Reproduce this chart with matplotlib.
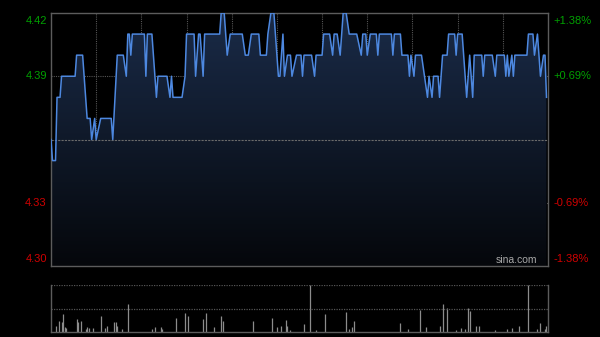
import numpy as np
import matplotlib
matplotlib.use('Agg')
import matplotlib.pyplot as plt
from matplotlib.colors import LinearSegmentedColormap

# Intraday price (minute index from the open, price in HKD)
minutes = [0, 1, 3, 4, 6, 7, 16, 17, 21, 22, 24, 26, 27, 29, 30, 33, 40, 41, 44, 48,
           50, 51, 52, 53, 54, 62, 63, 64, 67, 68, 70, 71, 77, 79, 80, 81, 87, 89, 90, 95,
           96, 98, 99, 101, 102, 112, 113, 115, 117, 119, 127, 129, 131, 133, 138, 139, 143, 144, 146, 148,
           151, 152, 154, 155, 157, 159, 160, 163, 166, 167, 168, 173, 175, 176, 180, 181, 185, 187, 188, 190,
           192, 193, 194, 196, 198, 203, 206, 207, 209, 210, 212, 216, 217, 218, 226, 227, 228, 232, 233, 237,
           238, 239, 241, 242, 246, 248, 250, 251, 253, 254, 257, 258, 260, 263, 264, 268, 269, 270, 273, 275,
           276, 278, 280, 281, 286, 287, 288, 293, 295, 296, 301, 302, 303, 304, 306, 307, 308, 316, 317, 320,
           321, 323, 325, 327, 328, 329]
prices = [4.36, 4.35, 4.35, 4.38, 4.38, 4.39, 4.39, 4.40, 4.40, 4.39, 4.37, 4.37, 4.36, 4.37, 4.36, 4.37, 4.37, 4.36, 4.40, 4.40,
          4.39, 4.41, 4.41, 4.40, 4.41, 4.41, 4.39, 4.41, 4.41, 4.40, 4.38, 4.39, 4.39, 4.38, 4.39, 4.38, 4.38, 4.39, 4.41, 4.41,
          4.39, 4.41, 4.41, 4.39, 4.41, 4.41, 4.42, 4.42, 4.40, 4.41, 4.41, 4.40, 4.40, 4.41, 4.41, 4.40, 4.40, 4.41, 4.42, 4.42,
          4.39, 4.39, 4.41, 4.39, 4.40, 4.40, 4.39, 4.40, 4.40, 4.39, 4.40, 4.40, 4.39, 4.40, 4.40, 4.41, 4.41, 4.40, 4.41, 4.41,
          4.40, 4.41, 4.42, 4.42, 4.41, 4.41, 4.40, 4.41, 4.41, 4.40, 4.41, 4.41, 4.40, 4.41, 4.41, 4.40, 4.41, 4.41, 4.40, 4.40,
          4.39, 4.40, 4.39, 4.40, 4.40, 4.39, 4.38, 4.39, 4.38, 4.39, 4.39, 4.38, 4.40, 4.40, 4.41, 4.41, 4.40, 4.41, 4.41, 4.39,
          4.38, 4.40, 4.38, 4.40, 4.40, 4.39, 4.40, 4.40, 4.39, 4.40, 4.40, 4.39, 4.40, 4.39, 4.40, 4.39, 4.40, 4.40, 4.41, 4.41,
          4.40, 4.41, 4.39, 4.40, 4.40, 4.38]

# Volume spikes (minute index, relative volume)
vol_minutes = [3, 5, 7, 8, 9, 10, 17, 18, 20, 23, 24, 25, 28, 33, 36, 37, 42, 43, 44, 47,
               51, 67, 69, 73, 74, 83, 89, 91, 101, 103, 108, 113, 114, 134, 147, 150, 153, 156, 157, 159,
               168, 172, 176, 182, 196, 198, 200, 201, 232, 237, 245, 249, 258, 260, 263, 269, 272, 275, 277, 278,
               282, 284, 295, 303, 306, 311, 317, 323, 325, 328, 329]
vol_values = [6, 11, 10, 18, 5, 4, 13, 10, 11, 3, 5, 4, 4, 16, 4, 6, 10, 10, 6, 3,
              28, 3, 5, 5, 3, 14, 19, 16, 13, 19, 5, 16, 11, 11, 14, 5, 6, 12, 6, 2,
              8, 47, 2, 18, 20, 3, 5, 11, 9, 3, 22, 5, 6, 28, 24, 2, 4, 3, 24, 21,
              6, 6, 2, 3, 4, 6, 47, 3, 9, 3, 6]

prev_close = 4.36
price_ticks = [4.42, 4.39, 4.33, 4.30]

plt.rcParams['font.family'] = ['Liberation Sans', 'DejaVu Sans']

grid_col = '#555555'
border_col = '#5c5c5c'
up_col = '#00a000'
down_col = '#d00000'

fig = plt.figure(figsize=(6, 3.37), dpi=100, facecolor='black')
ax = fig.add_axes([51 / 600, 1 - 266 / 337, 497 / 600, 253 / 337])
vax = fig.add_axes([51 / 600, 1 - 332 / 337, 497 / 600, 47 / 337])

# Price panel
ax.set_facecolor('black')
ax.set_xlim(0, 330)
ax.set_ylim(4.30, 4.42)

for m in range(30, 330, 30):
    ax.axvline(m, color=grid_col, lw=0.8, ls=(0, (1, 1)), zorder=0)
for p in [4.39, 4.33]:
    ax.axhline(p, color=grid_col, lw=0.8, ls=(0, (1, 1)), zorder=0)

# gradient fill under the line
poly = ax.fill_between(minutes, prices, 4.30, color='none', lw=0)
cmap = LinearSegmentedColormap.from_list('fill', ['#05070b', '#1a2b48'])
grad = ax.imshow(np.linspace(0, 1, 256).reshape(-1, 1), extent=[0, 330, 4.30, 4.42],
                 origin='lower', aspect='auto', cmap=cmap, zorder=1)
grad.set_clip_path(poly.get_paths()[0], transform=ax.transData)

ax.axhline(prev_close, color='#6a6a6a', lw=0.8, ls=(0, (2, 1)), zorder=2)
ax.plot(minutes, prices, color='#4d88e0', lw=1.1, zorder=3)

ax.set_xticks([])
ax.set_yticks([])
for s in ax.spines.values():
    s.set_color(border_col)
    s.set_linewidth(1)

# price labels on the left, change in percent on the right
for p in price_ticks:
    col = up_col if p > prev_close else down_col
    pct = (p - prev_close) / prev_close * 100
    va = 'top' if p == 4.42 else ('bottom' if p == 4.30 else 'center')
    off = -0.0015 if p == 4.42 else (0.0008 if p == 4.30 else 0)
    ax.annotate('%.2f' % p, xy=(0, p + off), xytext=(-3, 0), textcoords='offset points',
                color=col, fontsize=8, ha='right', va=va, annotation_clip=False)
    ax.annotate('%+.2f%%' % pct, xy=(330, p + off), xytext=(4, 0), textcoords='offset points',
                color=col, fontsize=8, ha='left', va=va, annotation_clip=False)

ax.text(0.978, 0.005, 'sina.com', transform=ax.transAxes, color='#a8a8a8',
        fontsize=7.5, ha='right', va='bottom', zorder=4)

# Volume panel
vax.set_facecolor('black')
vax.set_xlim(0, 330)
vax.set_ylim(0, 47)
vax.vlines(vol_minutes, 0, vol_values, color='#8c8c8c', lw=0.9)
vax.axhline(47, color=grid_col, lw=0.9, ls=(0, (1, 1)))
vax.axhline(23.5, color=grid_col, lw=0.9, ls=(0, (1, 1)))
vax.set_xticks([])
vax.set_yticks([])
vax.spines['top'].set_visible(False)
for k in ['left', 'right', 'bottom']:
    vax.spines[k].set_color(border_col)
    vax.spines[k].set_linewidth(1)

fig.savefig('out.png', dpi=100, facecolor='black')
